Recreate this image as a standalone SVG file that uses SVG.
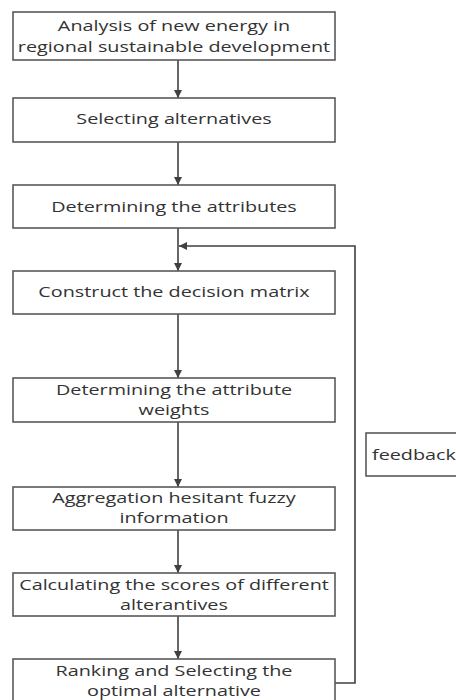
<svg xmlns="http://www.w3.org/2000/svg" width="456" height="700" viewBox="0 0 456 700">
<style>
.box{fill:#fff;stroke:#595959;stroke-width:1.6}
.t{font-family:"Open Sans","DejaVu Sans",sans-serif;font-size:15px;fill:#333;text-anchor:middle}
.c{fill:none;stroke:#404040;stroke-width:1.6}
</style>
<defs>
<marker id="ah" viewBox="0 0 10 10" refX="10" refY="5" markerWidth="5" markerHeight="5" orient="auto" markerUnits="strokeWidth">
<path d="M0,0 L10,5 L0,10 z" fill="#404040"/>
</marker>
</defs>
<rect width="456" height="700" fill="#fff"/>
<g id="connectors">
<line class="c" x1="178" y1="60" x2="178" y2="98" marker-end="url(#ah)"/>
<line class="c" x1="178" y1="142" x2="178" y2="185" marker-end="url(#ah)"/>
<line class="c" x1="178" y1="228" x2="178" y2="271" marker-end="url(#ah)"/>
<line class="c" x1="178" y1="314" x2="178" y2="378" marker-end="url(#ah)"/>
<line class="c" x1="178" y1="422" x2="178" y2="487" marker-end="url(#ah)"/>
<line class="c" x1="178" y1="530" x2="178" y2="573" marker-end="url(#ah)"/>
<line class="c" x1="178" y1="616" x2="178" y2="659" marker-end="url(#ah)"/>
<polyline class="c" points="335,683 355,683 355,246 179,246" marker-end="url(#ah)"/>
</g>
<g id="n1"><rect class="box" x="13" y="12" width="322" height="48"/>
<g transform="translate(174,0) scale(1.32,1) translate(-174,0)">
<text class="t" x="174" y="31">Analysis of new energy in</text>
<text class="t" x="174" y="52">regional sustainable development</text></g></g>
<g id="n2"><rect class="box" x="13" y="98" width="322" height="44"/>
<g transform="translate(174,0) scale(1.32,1) translate(-174,0)">
<text class="t" x="174" y="124">Selecting alternatives</text></g></g>
<g id="n3"><rect class="box" x="13" y="185" width="322" height="43"/>
<g transform="translate(174,0) scale(1.32,1) translate(-174,0)">
<text class="t" x="174" y="212">Determining the attributes</text></g></g>
<g id="n4"><rect class="box" x="13" y="271" width="322" height="43"/>
<g transform="translate(174,0) scale(1.32,1) translate(-174,0)">
<text class="t" x="174" y="297">Construct the decision matrix</text></g></g>
<g id="n5"><rect class="box" x="13" y="378" width="322" height="44"/>
<g transform="translate(174,0) scale(1.32,1) translate(-174,0)">
<text class="t" x="174" y="395">Determining the attribute</text>
<text class="t" x="174" y="415">weights</text></g></g>
<g id="n6"><rect class="box" x="13" y="487" width="322" height="43"/>
<g transform="translate(174,0) scale(1.32,1) translate(-174,0)">
<text class="t" x="174" y="503">Aggregation hesitant fuzzy</text>
<text class="t" x="174" y="523">information</text></g></g>
<g id="n7"><rect class="box" x="13" y="573" width="322" height="43"/>
<g transform="translate(174,0) scale(1.32,1) translate(-174,0)">
<text class="t" x="174" y="590">Calculating the scores of different</text>
<text class="t" x="174" y="610">alterantives</text></g></g>
<g id="n8"><rect class="box" x="13" y="659" width="322" height="45"/>
<g transform="translate(174,0) scale(1.32,1) translate(-174,0)">
<text class="t" x="174" y="676">Ranking and Selecting the</text>
<text class="t" x="174" y="696">optimal alternative</text></g></g>
<g id="feedback"><rect class="box" x="366" y="433" width="100" height="43"/>
<g transform="translate(372,0) scale(1.32,1) translate(-372,0)">
<text class="t" x="372" y="460" style="text-anchor:start">feedback</text></g></g>
</svg>
